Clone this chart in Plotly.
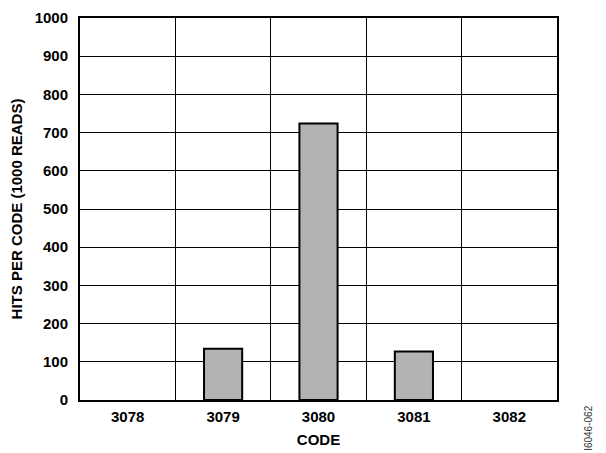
import plotly.graph_objects as go

codes = [3078, 3079, 3080, 3081, 3082]
hits = [0, 134, 724, 127, 0]
y_ticks = list(range(0, 1001, 100))

font = "Liberation Sans, Arial, sans-serif"

fig = go.Figure()
fig.add_trace(go.Bar(
    x=codes, y=hits, width=0.4,
    marker=dict(color="#b3b3b3",
                line=dict(color="black", width=[2 if h > 0 else 0 for h in hits])),
))

fig.update_layout(
    width=598, height=445,
    margin=dict(l=72, r=49, t=10, b=53, autoexpand=False),
    paper_bgcolor="white", plot_bgcolor="white",
    showlegend=False,
    font=dict(family=font, size=15, color="black"),
    xaxis=dict(
        range=[3077.5, 3082.5], tickvals=codes, ticktext=[str(c) for c in codes],
        showgrid=False, zeroline=False, automargin=False,
        showline=True, linecolor="black", linewidth=2, mirror=True,
        ticks="", ticklabelstandoff=2,
        tickfont=dict(family=font, size=15, weight="bold"),
        minor=dict(tick0=3077.5, dtick=1, showgrid=True, gridcolor="black", gridwidth=1.3),
        title=dict(text="<b>CODE</b>", font=dict(family=font, size=15), standoff=10),
    ),
    yaxis=dict(
        range=[0, 1000], tickvals=y_ticks,
        showgrid=True, gridcolor="black", gridwidth=1.3, zeroline=False, automargin=False,
        showline=True, linecolor="black", linewidth=2, mirror=True,
        ticks="", ticklabelstandoff=7,
        tickfont=dict(family=font, size=15, weight="bold"),
        title=dict(text="<b>HITS PER CODE (1000 READS)</b>", font=dict(family=font, size=15), standoff=8),
    ),
    annotations=[dict(
        text="I6046-062", xref="paper", yref="paper", x=1.067, y=-0.073,
        xanchor="center", yanchor="middle", textangle=-90, showarrow=False,
        font=dict(family=font, size=10, color="#333333"),
    )],
)

fig.write_html("out.html")
